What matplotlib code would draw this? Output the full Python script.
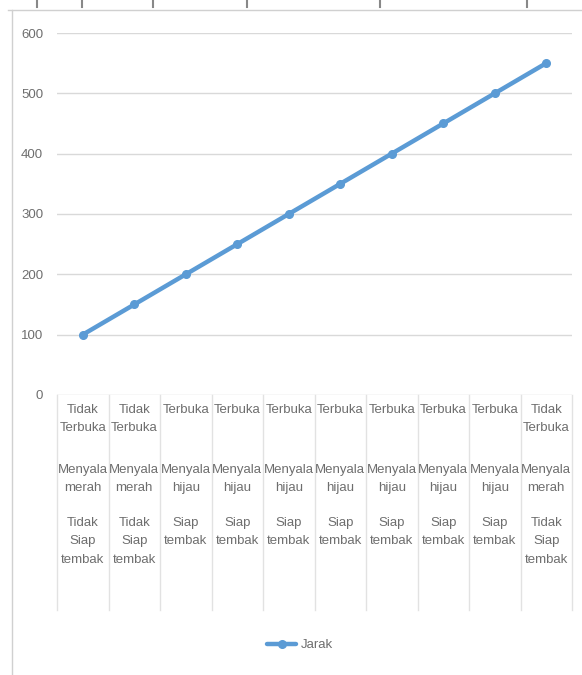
import matplotlib.pyplot as plt
from matplotlib.lines import Line2D
from matplotlib.transforms import blended_transform_factory

# ── data ─────────────────────────────────────────────────────────────────────
pintu = ["Tidak\nTerbuka", "Tidak\nTerbuka", "Terbuka", "Terbuka", "Terbuka",
         "Terbuka", "Terbuka", "Terbuka", "Terbuka", "Tidak\nTerbuka"]
lampu = ["Menyala\nmerah", "Menyala\nmerah", "Menyala\nhijau", "Menyala\nhijau",
         "Menyala\nhijau", "Menyala\nhijau", "Menyala\nhijau", "Menyala\nhijau",
         "Menyala\nhijau", "Menyala\nmerah"]
status = ["Tidak\nSiap\ntembak", "Tidak\nSiap\ntembak", "Siap\ntembak",
          "Siap\ntembak", "Siap\ntembak", "Siap\ntembak", "Siap\ntembak",
          "Siap\ntembak", "Siap\ntembak", "Tidak\nSiap\ntembak"]
jarak = [100, 150, 200, 250, 300, 350, 400, 450, 500, 550]
yticks = [0, 100, 200, 300, 400, 500, 600]

# ── style ────────────────────────────────────────────────────────────────────
W, H = 582, 675
COL_LINE = "#5B9BD5"
COL_GRID = "#D9D9D9"
COL_TEXT = "#6E6E6E"
COL_FRAME = "#D0D0D0"
plt.rcParams["font.family"] = ["Liberation Sans Narrow", "Liberation Sans",
                               "DejaVu Sans"]


def fy(px):
    """pixel row (from top) -> figure fraction"""
    return 1 - px / H


fig = plt.figure(figsize=(W / 100, H / 100), dpi=100)
ax = fig.add_axes([57 / W, fy(395), 515 / W, fy(33) - fy(395)])

n = len(jarak)
xs = list(range(n))
ax.plot(xs, jarak, color=COL_LINE, linewidth=3.2, marker="o", markersize=5.5,
        label="Jarak", solid_capstyle="round")
ax.set_xlim(-0.5, n - 0.5)
ax.set_ylim(0, 600)
ax.set_yticks(yticks)
ax.yaxis.grid(True, color=COL_GRID, linewidth=1)
ax.set_axisbelow(True)
ax.set_xticks([])
for s in ax.spines.values():
    s.set_visible(False)
ax.tick_params(axis="y", length=0, pad=10, labelsize=9.5, labelcolor=COL_TEXT)

# category table under the plot
tr = blended_transform_factory(ax.transData, fig.transFigure)
for i in range(n):
    for txt, top in ((pintu[i], 404), (lampu[i], 464), (status[i], 517)):
        ax.text(i, fy(top), txt, transform=tr, ha="center", va="top",
                fontsize=9.5, color=COL_TEXT, linespacing=1.7)
for k in range(n + 1):
    ax.add_line(Line2D([k - 0.5, k - 0.5], [fy(395), fy(610)], transform=tr,
                       color="#E2E2E2", linewidth=1, clip_on=False))

# legend
leg = ax.legend(loc="center", bbox_to_anchor=(300 / W, fy(645)),
                bbox_transform=fig.transFigure, frameon=False, fontsize=9.5,
                handlelength=2.2, handletextpad=0.3, labelcolor=COL_TEXT)

# screenshot frame remnants
fig.add_artist(Line2D([12 / W, 12 / W], [0, fy(10)], color=COL_FRAME, linewidth=1))
fig.add_artist(Line2D([8 / W, 1], [fy(10), fy(10)], color=COL_FRAME, linewidth=1))
for bx in (37, 82, 153, 247, 380, 527):
    fig.add_artist(Line2D([bx / W, bx / W], [fy(0), fy(7)], color="#888888",
                          linewidth=1.5))

fig.savefig("out.png", dpi=100, facecolor="white")
